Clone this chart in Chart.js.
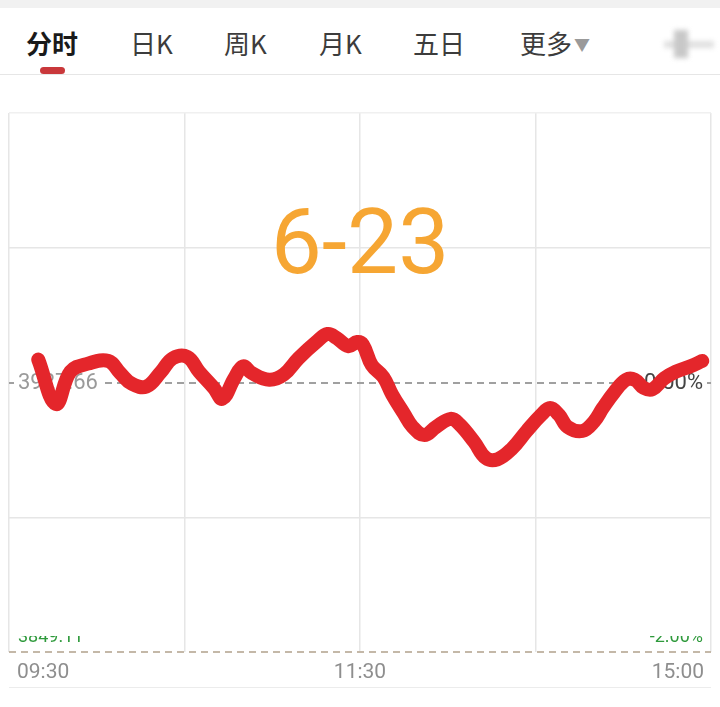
<!DOCTYPE html>
<html>
<head>
<meta charset="utf-8">
<script src="https://cdn.jsdelivr.net/npm/chart.js@4.4.1/dist/chart.umd.min.js"></script>
<style>
    html, body { margin: 0; padding: 0; background: #fff; }
    body { width: 720px; height: 707px; position: relative; overflow: hidden; font-family: "Noto Sans CJK SC", sans-serif; }
    #chart { position: absolute; left: 0; top: 0; }
    .band { position: absolute; left: 0; top: 0; width: 720px; height: 8px; background: #f1f1f1; }
    .tab { position: absolute; top: 29px; font-size: 26px; line-height: 28px; color: #3c3c3c; white-space: nowrap; }
    .tab.active { color: #1a1a1a; font-weight: bold; }
    .tab .arrow { font-size: 16px; color: #9a9a9a; vertical-align: 3px; margin-left: 2px; }
    .pill { position: absolute; left: 40px; top: 67px; width: 25px; height: 7px; border-radius: 4px; background: #c9383b; }
    .sep { position: absolute; left: 0; top: 74px; width: 720px; height: 1px; background: #e6e6e6; }
    .icon-h { position: absolute; left: 664px; top: 41px; width: 50px; height: 7px; background: #e0e0e0; filter: blur(2.5px); }
    .icon-v { position: absolute; left: 674px; top: 30px; width: 14px; height: 28px; background: #c8c8c8; filter: blur(2.5px); }
    .foot { position: absolute; left: 9px; top: 687px; width: 702px; height: 1px; background: #ececec; }
</style>
</head>
<body>
<div class="band"></div>
<div class="tab active" style="left:26px">分时</div>
<div class="tab" style="left:130px">日K</div>
<div class="tab" style="left:224px">周K</div>
<div class="tab" style="left:319px">月K</div>
<div class="tab" style="left:413px">五日</div>
<div class="tab" style="left:520px">更多<span class="arrow">▼</span></div>
<div class="pill"></div>
<div class="sep"></div>
<div class="icon-h"></div>
<div class="icon-v"></div>
<div class="foot"></div>
<canvas id="chart" width="720" height="707"></canvas>
<script>
// minutes since 09:30 on the trading clock (lunch break removed), 0..240
const MINUTES = [
    10, 16, 21, 27, 34, 38, 42, 47, 52, 56,
    61, 65, 70, 73, 77, 80, 83, 89, 94, 99,
    105, 109, 112, 116, 119, 121, 124, 128, 131, 135,
    138, 142, 146, 151, 154, 159, 163, 167, 172, 177,
    182, 185, 188, 191, 196, 200, 203, 207, 211, 214,
    217, 220, 224, 228, 233, 237,
];
// change vs previous close, %
const PCT_CHANGE = [
    0.17, -0.16, 0.08, 0.14, 0.16, 0.07, -0.01, -0.03, 0.08, 0.18,
    0.19, 0.08, -0.04, -0.12, 0.03, 0.12, 0.07, 0.02, 0.06, 0.18,
    0.30, 0.36, 0.33, 0.27, 0.30, 0.28, 0.13, 0.04, -0.09, -0.23,
    -0.33, -0.39, -0.33, -0.27, -0.31, -0.44, -0.56, -0.57, -0.49, -0.36,
    -0.24, -0.19, -0.24, -0.33, -0.36, -0.29, -0.19, -0.07, 0.02, 0.02,
    -0.04, -0.05, 0.03, 0.08, 0.12, 0.16,
];

const X_GRID = [0, 60, 120, 180, 240];
const X_LABEL_AT = [0, 120, 240];
const X_LABELS = ['09:30', '11:30', '15:00'];
const Y_GRID = [-2, -1, 0, 1, 2];
const Y_DASHED = [0, -2];

const DATE_TEXT = '6-23';
const PREV_CLOSE = '3927.66';
const ZERO_PCT = '0.00%';
const LOW_PRICE = '3849.11';
const LOW_PCT = '-2.00%';

const overlay = {
    id: 'overlay',
    beforeDatasetsDraw(chart) {
        const { ctx, chartArea: a, scales: { x, y } } = chart;
        const y0 = y.getPixelForValue(0);
        ctx.save();

        ctx.font = '91px Roboto';
        ctx.fillStyle = '#f6a633';
        ctx.textAlign = 'center';
        ctx.textBaseline = 'alphabetic';
        ctx.fillText(DATE_TEXT, x.getPixelForValue(120), 273);

        ctx.font = '22px Roboto';
        ctx.textBaseline = 'middle';
        let w = ctx.measureText(PREV_CLOSE).width;
        ctx.fillStyle = '#fff';
        ctx.fillRect(a.left + 5, y0 - 3, w + 8, 6);
        ctx.fillStyle = '#9a9a9a';
        ctx.textAlign = 'left';
        ctx.fillText(PREV_CLOSE, a.left + 9, y0 + 1);

        w = ctx.measureText(ZERO_PCT).width;
        ctx.fillStyle = '#fff';
        ctx.fillRect(a.right - w - 12, y0 - 3, w + 8, 6);
        ctx.fillStyle = '#444';
        ctx.textAlign = 'right';
        ctx.fillText(ZERO_PCT, a.right - 8, y0 + 1);

        // low labels are mostly wiped out in the picture, only their feet show
        ctx.beginPath();
        ctx.rect(a.left, 636, a.right - a.left, 10);
        ctx.clip();
        ctx.font = '18px Roboto';
        ctx.textBaseline = 'alphabetic';
        ctx.fillStyle = '#2f9a3c';
        ctx.textAlign = 'left';
        ctx.fillText(LOW_PRICE, a.left + 9, 642);
        ctx.textAlign = 'right';
        ctx.fillText(LOW_PCT, a.right - 8, 642);
        ctx.restore();
    },
    afterDraw(chart) {
        const { ctx, scales: { x } } = chart;
        ctx.save();
        ctx.font = '21px Roboto';
        ctx.fillStyle = '#8e8e8e';
        ctx.textBaseline = 'alphabetic';
        X_LABEL_AT.forEach((v, i) => {
            const px = x.getPixelForValue(v);
            if (i === 0) {
                ctx.textAlign = 'left';
                ctx.fillText(X_LABELS[i], px + 8, 678);
            } else if (i === X_LABEL_AT.length - 1) {
                ctx.textAlign = 'right';
                ctx.fillText(X_LABELS[i], px - 7, 678);
            } else {
                ctx.textAlign = 'center';
                ctx.fillText(X_LABELS[i], px, 678);
            }
        });
        ctx.restore();
    },
};

const points = MINUTES.map((m, i) => ({ x: m, y: PCT_CHANGE[i] }));

new Chart(document.getElementById('chart'), {
    type: 'line',
    data: {
        datasets: [{
            data: points,
            borderColor: '#e4262b',
            borderWidth: 14,
            borderCapStyle: 'round',
            borderJoinStyle: 'round',
            tension: 0.4,
            pointRadius: 0,
            fill: false,
        }],
    },
    options: {
        responsive: false,
        animation: false,
        parsing: false,
        layout: { padding: { left: 9, right: 9, top: 113, bottom: 55 } },
        plugins: { legend: { display: false }, tooltip: { enabled: false } },
        scales: {
            x: {
                type: 'linear',
                min: 0,
                max: 240,
                afterBuildTicks(s) { s.ticks = X_GRID.map(v => ({ value: v })); },
                ticks: { display: false },
                grid: { color: '#e6e6e6', lineWidth: 1.5, drawTicks: false },
                border: { display: false },
            },
            y: {
                min: -2,
                max: 2,
                afterBuildTicks(s) { s.ticks = Y_GRID.map(v => ({ value: v })); },
                ticks: { display: false },
                grid: {
                    drawTicks: false,
                    lineWidth: 1.5,
                    color(c) {
                        const v = c.tick ? c.tick.value : null;
                        if (Y_DASHED.includes(v)) return 'rgba(0,0,0,0)';
                        if (v === 2) return '#f0f0f0';
                        return '#e6e6e6';
                    },
                },
                border: { display: false },
            },
            y2: {
                position: 'right',
                min: -2,
                max: 2,
                afterBuildTicks(s) { s.ticks = Y_DASHED.map(v => ({ value: v })); },
                ticks: { display: false },
                grid: {
                    drawTicks: false,
                    lineWidth: 2,
                    color(c) {
                        return c.tick && c.tick.value === 0 ? '#a0a0a0' : '#c4b8a8';
                    },
                },
                border: { display: false, dash: [7, 5] },
            },
        },
    },
    plugins: [overlay],
});
</script>
</body>
</html>
